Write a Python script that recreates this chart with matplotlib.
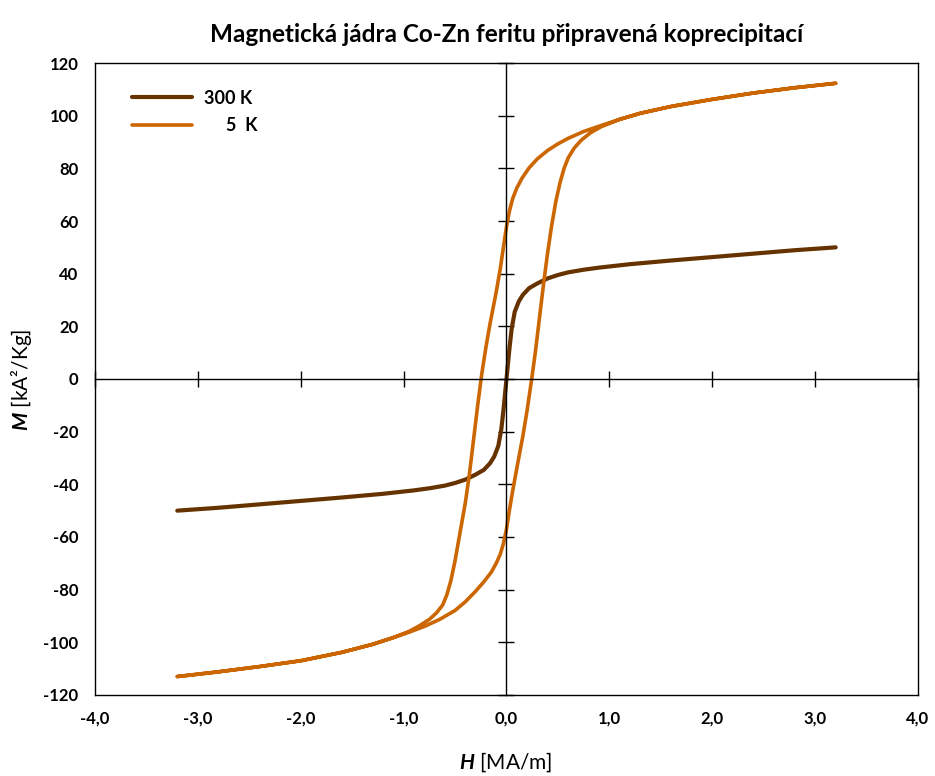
#! /usr/bin/env python
import numpy as np
import matplotlib.pyplot as plt
from matplotlib.ticker import FuncFormatter

# hysteresis loops, H in MA/m, M in kA^2/kg
h_300 = [-3.2, -2.8, -2.4, -2.0, -1.6, -1.2, -0.9, -0.75, -0.6, -0.5, -0.4, -0.3, -0.22, -0.16,
         -0.12, -0.08, -0.05, -0.03, -0.015, 0.0, 0.015, 0.03, 0.05, 0.08, 0.12, 0.16, 0.22, 0.3,
         0.4, 0.5, 0.6, 0.75, 0.9, 1.2, 1.6, 2.0, 2.4, 2.8, 3.2]
m_300 = [-50.0, -48.9, -47.6, -46.3, -45.0, -43.6, -42.3, -41.5, -40.5, -39.5, -38.2, -36.3, -34.5, -32.0,
         -29.5, -25.5, -19.0, -12.0, -6.0, 0.0, 6.0, 12.0, 19.0, 25.5, 29.5, 32.0, 34.5, 36.3,
         38.2, 39.5, 40.5, 41.5, 42.3, 43.6, 45.0, 46.3, 47.6, 48.9, 50.0]

# 5 K, field sweep from +max down to -max
h_5k_down = [3.2, 2.8, 2.4, 2.0, 1.6, 1.3, 1.1, 0.9, 0.75, 0.6, 0.5, 0.4, 0.3, 0.22, 0.15, 0.1,
             0.06, 0.03, 0.0, -0.03, -0.06, -0.1, -0.16, -0.2, -0.24, -0.28, -0.32, -0.36, -0.4,
             -0.45, -0.5, -0.54, -0.58, -0.62, -0.68, -0.75, -0.85, -0.95, -1.1, -1.3, -1.6,
             -2.0, -2.4, -2.8, -3.2]
m_5k_down = [112.3, 110.6, 108.6, 106.2, 103.5, 100.9, 98.6, 96.0, 94.0, 91.4, 89.3, 86.8, 83.6, 80.2, 76.2, 72.5,
             68.5, 64.0, 57.8, 50.0, 42.0, 33.0, 21.0, 12.0, 2.0, -10.0, -23.0, -36.0, -47.0,
             -58.0, -69.0, -76.5, -82.0, -85.8, -88.8, -91.3, -93.8, -95.9, -98.2, -100.8, -103.8,
             -107.0, -109.2, -111.2, -113.0]

# 5 K, field sweep back up from -max to +max
h_5k_up = [-3.2, -2.8, -2.4, -2.0, -1.6, -1.3, -1.1, -0.95, -0.8, -0.65, -0.5, -0.4, -0.3, -0.22,
           -0.15, -0.1, -0.06, -0.03, 0.0, 0.03, 0.06, 0.1, 0.16, 0.2, 0.245, 0.28, 0.32, 0.36,
           0.4, 0.44, 0.48, 0.52, 0.56, 0.6, 0.66, 0.73, 0.82, 0.92, 1.1, 1.3, 1.6, 2.0, 2.4,
           2.8, 3.2]
m_5k_up = [-113.0, -111.2, -109.2, -107.0, -103.8, -100.7, -98.2, -96.2, -94.0, -91.3, -87.9, -84.6, -80.6, -77.0,
           -73.5, -70.0, -66.5, -62.5, -57.0, -49.5, -42.5, -34.0, -21.5, -12.0, 0.0, 10.0, 23.0, 36.0,
           48.0, 58.5, 67.5, 74.5, 80.0, 84.0, 87.8, 90.8, 93.6, 95.8, 98.6, 100.9, 103.5, 106.2, 108.6,
           110.6, 112.3]

x_ticks = [-4, -3, -2, -1, 0, 1, 2, 3, 4]
y_ticks = [-120, -100, -80, -60, -40, -20, 0, 20, 40, 60, 80, 100, 120]


def main():
    plt.rcParams['font.family'] = ['Lato', 'DejaVu Sans']
    plt.rcParams['font.weight'] = 'bold'
    plt.rcParams['mathtext.fontset'] = 'custom'
    plt.rcParams['mathtext.it'] = 'Lato:italic'
    plt.rcParams['mathtext.rm'] = 'Lato'

    fig = plt.figure(figsize=(9.35, 7.76), dpi=100)
    ax = fig.add_axes([0.1016, 0.1044, 0.8802, 0.8144])

    ax.plot(h_300, m_300, color='#663300', lw=3.0, label='300 K',
            solid_joinstyle='round', solid_capstyle='round')
    ax.plot(np.concatenate([h_5k_down, h_5k_up[1:]]), np.concatenate([m_5k_down, m_5k_up[1:]]),
            color='#CC6600', lw=2.6, label='     5  K', solid_joinstyle='round', solid_capstyle='round')

    ax.set_xlim(-4, 4)
    ax.set_ylim(-120, 120)

    # axes crossing at the origin with cross ticks, labels go on the frame
    ax.spines['left'].set_position(('data', 0))
    ax.spines['bottom'].set_position(('data', 0))
    for s in ax.spines.values():
        s.set_linewidth(1.0)
    ax.set_xticks(x_ticks)
    ax.set_yticks(y_ticks)
    ax.tick_params(direction='inout', length=12, width=1, labelleft=False, labelbottom=False)

    sx = ax.secondary_xaxis('bottom')
    sx.set_xticks(x_ticks)
    sx.xaxis.set_major_formatter(FuncFormatter(lambda v, p: f'{v:.1f}'.replace('.', ',')))
    sx.tick_params(length=0, pad=11, labelsize=12)
    sx.spines['bottom'].set_linewidth(1.0)

    sy = ax.secondary_yaxis('left')
    sy.set_yticks(y_ticks)
    sy.yaxis.set_major_formatter(FuncFormatter(lambda v, p: f'{v:.0f}'))
    sy.tick_params(length=0, pad=12, labelsize=12)
    sy.spines['left'].set_linewidth(1.0)

    ax.set_title('Magnetická jádra Co-Zn feritu připravená koprecipitací', fontsize=17.5,
                 fontweight='bold', pad=15)
    fig.text(506 / 935, 1 - 762 / 776, r'$\mathit{H}$ [MA/m]', fontsize=15, fontweight='normal',
             ha='center', va='center')
    fig.text(21 / 935, 1 - 380 / 776, r'$\mathit{M}$ [kA²/Kg]', fontsize=15, fontweight='normal',
             ha='center', va='center', rotation=90)

    ax.legend(loc='upper left', bbox_to_anchor=(0.045, 0.958), frameon=False, fontsize=13,
              handlelength=3.3, handletextpad=0.7, labelspacing=0.6, borderpad=0, borderaxespad=0)

    fig.savefig('out.png', dpi=100)


if __name__ == "__main__":
    main()
